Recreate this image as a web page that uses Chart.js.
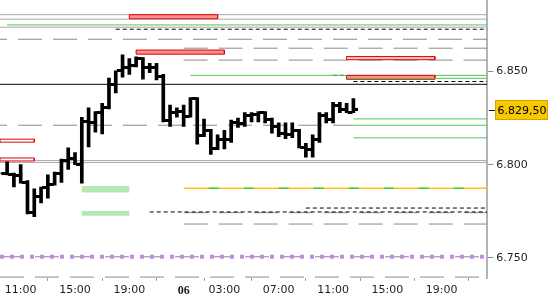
<!DOCTYPE html>
<html><head><meta charset="utf-8">
<script src="https://cdn.jsdelivr.net/npm/chart.js@4.4.1/dist/chart.umd.min.js"></script>
<style>html,body{margin:0;padding:0;background:#fff;}canvas{display:block;}</style>
</head><body>
<canvas id="c" width="550" height="300"></canvas>
<script>
// ---------------- DATA ----------------
// 30-minute bars, "day HH:MM"
const barTimes = ['5 09:30','5 10:00','5 10:30','5 11:00','5 11:30','5 12:00','5 12:30','5 13:00','5 13:30','5 14:00','5 14:30','5 15:00','5 15:30','5 16:00','5 16:30','5 17:00','5 17:30','5 18:00','5 18:30','5 19:00','5 19:30','5 20:00','5 20:30','5 21:00','5 21:30','5 23:00','5 23:30','6 00:00','6 00:30','6 01:00','6 01:30','6 02:00','6 02:30','6 03:00','6 03:30','6 04:00','6 04:30','6 05:00','6 05:30','6 06:00','6 06:30','6 07:00','6 07:30','6 08:00','6 08:30','6 09:00','6 09:30','6 10:00','6 10:30','6 11:00','6 11:30','6 12:00','6 12:30'];
const opens  = [6795.5,6795.5,6794.5,6794,6790.5,6774.5,6783,6787.5,6789.5,6795.5,6802.5,6803.5,6800,6823,6822.5,6828,6830.5,6843,6850.5,6852,6853.5,6857,6852,6852,6847.5,6824,6828,6828.5,6826,6835.5,6815.5,6818.5,6808.5,6813.5,6813.5,6822.5,6822,6826.5,6827,6828,6824.5,6820.5,6817,6816,6818.5,6809,6808,6813.5,6826.5,6824.5,6832,6829.5,6828];
const highs  = [6795.5,6801.5,6795.5,6800,6791.5,6787,6788,6794.5,6796,6803,6809,6806.5,6825.5,6830.5,6828.5,6833,6846.5,6850.5,6859,6857,6858,6857.5,6854.5,6854.5,6848.5,6832,6830.5,6832,6836,6836,6824.5,6819,6816,6818.5,6824,6825,6828,6828,6828.5,6828.5,6825,6822.5,6822.5,6822.5,6819,6811.5,6816,6828,6828,6833.5,6833.5,6833,6835.5];
const lows   = [6795.5,6794.5,6788,6790,6773.5,6772,6779.5,6782,6789,6790.5,6797.5,6800,6790,6809.5,6817.5,6816.5,6830,6838.5,6847,6848.5,6852.5,6846,6849.5,6845.5,6823,6820.5,6825.5,6820.5,6825.5,6811,6815,6805.5,6808,6808.5,6812,6820,6820.5,6823,6823,6822.5,6817,6815,6814,6814.5,6809,6804,6804,6812,6822.5,6822.5,6828,6828,6828];
const closes = [6795.5,6794.5,6794,6790.5,6774.5,6783,6787.5,6789.5,6795.5,6802.5,6803.5,6800,6823,6822.5,6828,6830.5,6843,6850.5,6852,6853.5,6857,6852,6852,6847.5,6824,6828,6828.5,6826,6835.5,6815.5,6818.5,6808.5,6813.5,6813.5,6822.5,6822,6826.5,6827,6828,6824.5,6820.5,6817,6816,6818.5,6809,6808,6813.5,6826.5,6824.5,6832,6829.5,6828,6829.5];

const xTickTimes  = ['5 11:00','5 15:00','5 19:00','6 00:00','6 03:00','6 07:00','6 11:00','6 15:00','6 19:00'];
const xTickLabels = ['11:00','15:00','19:00','06','03:00','07:00','11:00','15:00','19:00'];
const yTickValues = [6750, 6800, 6850];

// horizontal levels: price, from, to ('L'/'R' = chart edges), kind
const levelPrice = [6880.6,6878.2,6875.1,6873.9,6872.8,6867.4,6862.6,6856.2,6848.0,6848.0,6846.4,6844.7,6843.2,6824.6,6821.2,6821.2,6814.4,6802.2,6801.2,6787.3,6787.3,6776.7,6774.6,6774.2,6768.1,6750.5,6750.5,6739.6];
const levelFrom  = ['L','L','5 10:00','L','5 18:00','L','6 00:00','6 00:00','6 00:30','6 11:00','6 12:00','6 12:30','L','6 12:30','L','6 12:30','6 12:30','L','L','6 00:00','6 00:00','6 09:00','5 20:30','6 00:00','6 00:00','L','L','L'];
const levelTo    = ['R','R','R','R','R','R','R','R','R','6 12:00','R','R','R','R','6 12:30','R','R','R','R','R','R','R','R','R','R','R','R','R'];
const levelKind  = ['gray','gray','green','gray','blackDash','grayDashA','grayDash','grayDash','green','blackDash','greenTop','blackDash','black','green','grayDashA','green','green','gray','gray','orange','orangeMark','blackDash','blackDash','grayDash','grayDash','grayDash','purple','grayDash'];

// zones: high, low, from, to, kind
const zoneHigh = [6880.6,6861.6,6858.1,6848.0,6813.7,6803.6,6788.6,6775.1];
const zoneLow  = [6878.4,6859.4,6856.4,6845.9,6812.1,6802.0,6785.0,6772.6];
const zoneFrom = ['5 19:00','5 19:30','6 12:00','6 12:00','L','L','5 15:30','5 15:30'];
const zoneTo   = ['6 02:30','6 03:00','6 18:30','6 18:30','5 12:00','5 12:00','5 19:00','5 19:00'];
const zoneKind = ['red','red','redLight','red','redOutline','redOutline','greenBox','greenBox'];

// ---------------- HELPERS ----------------
const X_MIN = -0.024, X_MAX = 35.86;
const Y_MIN = 6739.1, Y_MAX = 6888.5;
function toT(s){
  if (s === 'L') return X_MIN;
  if (s === 'R') return X_MAX;
  const [d, hm] = s.split(' ');
  const [h, m] = hm.split(':').map(Number);
  const hh = h + m/60;
  if (d === '5') return hh >= 23 ? hh - 10.5 : hh - 9.5; // session closed 22:00-23:00
  return 13.5 + hh;
}
function fmt(v, dec){
  const s = v.toFixed(dec);
  let [i, f] = s.split('.');
  i = i.replace(/\B(?=(\d{3})+(?!\d))/g, '.');
  return f ? i + ',' + f : i;
}

const levelStyles = {
  gray:      {c:'#a8a8a8', w:1, d:[], o:0, order:3},
  grayDash:  {c:'#8a8a8a', w:1, d:[24,11], o:0, order:3},
  grayDashA: {c:'#8a8a8a', w:1, d:[24,11], o:17, order:3},
  green:     {c:'#55c455', w:1, d:[], o:0, order:2},
  greenTop:  {c:'#55c455', w:1, d:[], o:0, order:0},
  black:     {c:'#000000', w:1, d:[], o:0, order:2},
  blackDash: {c:'#000000', w:1, d:[4,3], o:0, order:2},
  orange:    {c:'#ffc21a', w:1.5, d:[], o:0, order:3},
  orangeMark:{c:'#44cc44', w:1.5, d:[10,25], o:10, order:2},
  purple:    {c:'#c48ae0', w:4, d:[4,6], o:0, order:2}
};
const zoneStyles = {
  red:        {bg:'#ff9191', bc:'#e00000', w:1},
  redLight:   {bg:'#ffc4c4', bc:'#e00000', w:1},
  redOutline: {bg:'#ffffff', bc:'#e00000', w:1},
  greenBox:   {bg:'#b4e9b4', bc:'rgba(0,0,0,0)', w:0}
};

function tickImage(side){
  const c = document.createElement('canvas');
  c.width = 10; c.height = 3;
  const g = c.getContext('2d');
  g.fillStyle = '#000';
  if (side < 0) g.fillRect(0,0,4,3); else g.fillRect(6,0,4,3);
  return c;
}

// ---------------- DATASETS ----------------
const datasets = [];
datasets.push({
  type:'bar', order:0, grouped:false,
  data: barTimes.map((t,i)=>({x: toT(t), y:[lows[i], highs[i]]})),
  backgroundColor:'#000', borderWidth:0, barThickness:3
});
datasets.push({
  type:'line', order:0, showLine:false,
  data: barTimes.map((t,i)=>({x: toT(t), y: opens[i]})),
  pointStyle: tickImage(-1), pointRadius:3, pointHoverRadius:3
});
datasets.push({
  type:'line', order:0, showLine:false,
  data: barTimes.map((t,i)=>({x: toT(t), y: closes[i]})),
  pointStyle: tickImage(1), pointRadius:3, pointHoverRadius:3
});
levelPrice.forEach((p,i)=>{
  const st = levelStyles[levelKind[i]];
  datasets.push({
    type:'line', order: st.order,
    data:[{x: toT(levelFrom[i]), y:p},{x: toT(levelTo[i]), y:p}],
    borderColor: st.c, borderWidth: st.w, borderDash: st.d, borderDashOffset: st.o,
    pointRadius:0, fill:false, tension:0
  });
});
zoneHigh.forEach((hi,i)=>{
  const st = zoneStyles[zoneKind[i]];
  const a = toT(zoneFrom[i]), b = toT(zoneTo[i]), lo = zoneLow[i];
  datasets.push({
    type:'line', order:1,
    data:[{x:a,y:hi},{x:b,y:hi},{x:b,y:lo},{x:a,y:lo},{x:a,y:hi}],
    borderColor: st.bc, borderWidth: st.w, backgroundColor: st.bg,
    fill:'shape', pointRadius:0, tension:0
  });
});

const lastPricePlugin = {
  id:'lastPrice',
  afterDraw(chart){
    const {ctx, chartArea, scales:{y}} = chart;
    const v = closes[closes.length-1];
    const py = y.getPixelForValue(v);
    const ry = Math.round(py);
    ctx.save();
    ctx.strokeStyle = '#000'; ctx.lineWidth = 1;
    ctx.beginPath(); ctx.moveTo(chartArea.right + 1.5, ry + 0.5); ctx.lineTo(chartArea.right + 7.5, ry + 0.5); ctx.stroke();
    const bx = Math.round(chartArea.right + 7.5), bw = 53, bh = 20, by = ry - 10;
    ctx.fillStyle = '#f8c800'; ctx.fillRect(bx, by, bw, bh);
    ctx.strokeStyle = '#d8a200'; ctx.strokeRect(bx + 0.5, by + 0.5, bw - 1, bh - 1);
    ctx.fillStyle = '#000'; ctx.font = '11px "DejaVu Sans"';
    ctx.textBaseline = 'middle'; ctx.textAlign = 'left';
    ctx.fillText(fmt(v, 2), bx + 2.5, ry + 1);
    ctx.restore();
  }
};

new Chart(document.getElementById('c'), {
  type:'line',
  data:{datasets},
  plugins:[lastPricePlugin],
  options:{
    responsive:false, animation:false, devicePixelRatio:1,
    layout:{padding:0, autoPadding:false},
    plugins:{legend:{display:false}, tooltip:{enabled:false}},
    events:[],
    scales:{
      x:{
        type:'linear', min:X_MIN, max:X_MAX, offset:false,
        grid:{drawOnChartArea:false, drawTicks:true, tickLength:3, color:'#a0a0a0'},
        border:{display:false},
        afterBuildTicks(scale){ scale.ticks = xTickTimes.map(t=>({value: toT(t)})); },
        afterFit(scale){ scale.height = 22; scale.paddingLeft = 0; scale.paddingRight = 0; },
        ticks:{
          autoSkip:false, maxRotation:0, padding:3, color:'#1e1e1e',
          font:(ctx)=> ctx.index === 3 ? {family:'Liberation Serif', size:12, weight:'bold'} : {family:'DejaVu Sans', size:11},
          callback:(v, i)=> xTickLabels[i]
        }
      },
      y:{
        type:'linear', position:'right', min:Y_MIN, max:Y_MAX,
        grid:{drawOnChartArea:false, drawTicks:true, tickLength:6, color:'#909090'},
        border:{display:true, color:'#b4b4b4', width:2},
        afterBuildTicks(scale){ scale.ticks = yTickValues.map(v=>({value:v})); },
        afterFit(scale){ scale.width = 62.7; scale.paddingTop = 0; scale.paddingBottom = 0; },
        ticks:{
          padding:3, color:'#1e1e1e', font:{family:'DejaVu Sans', size:11},
          callback:(v)=> fmt(v, 0)
        }
      }
    }
  }
});
</script>
</body></html>
